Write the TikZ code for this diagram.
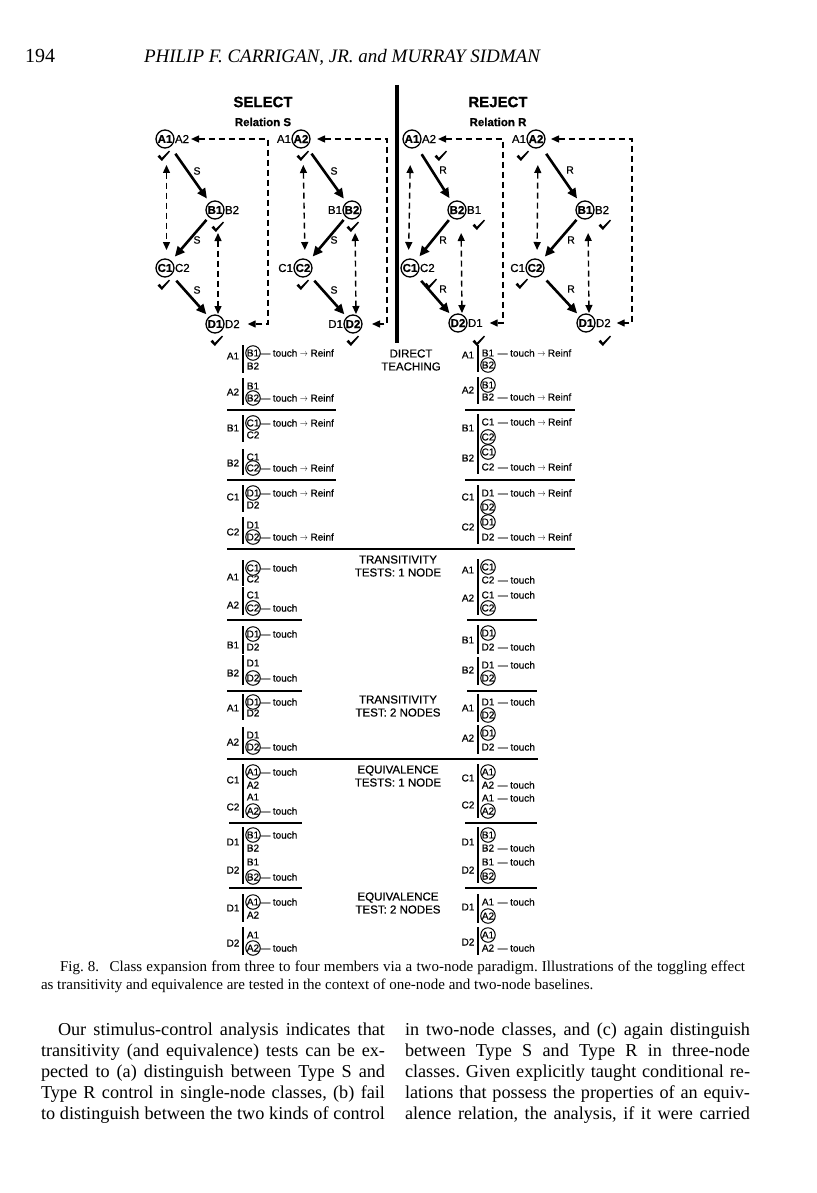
\documentclass[tikz,border=0pt]{standalone}
\usepackage{fontspec}
\usepackage{graphicx}
\setmainfont{Liberation Serif}
\newfontfamily\hel[RawFeature={embolden=0.6}]{Liberation Sans}
\usetikzlibrary{arrows.meta}
\newcounter{trc}
\newcommand\tchR{—\hspace{2.6pt}touch\hspace{2.6pt}\scalebox{0.8}[1]{\ensuremath{\rightarrow}}\hspace{2.6pt}Reinf}
\newcommand\tch{—\hspace{2.6pt}touch}
\newcommand\chk[2]{\fill ({#1-5.5},{#2-0.5}) -- ({#1-3.3},{#2-2.2}) -- ({#1-1.1},{#2+0.8}) -- ({#1+6},{#2-6.4}) -- ({#1+7},{#2-5.4}) -- ({#1-1.1},{#2+4}) -- cycle;}
% left column trial (select)
\newcommand\tL[8]{%
 \stepcounter{trc}%
 \node[smp] (ls\thetrc) at (233,#1) {#2};
 \if t#7
   \node[cmpc] (lt\thetrc) at (253,#3) {#4};
   \node[cmp] (lb\thetrc) at (253,#5) {#6};
   \node[tch] (lx\thetrc) at (lt\thetrc.east) {#8};
 \else
   \node[cmp] (lt\thetrc) at (253,#3) {#4};
   \node[cmpc] (lb\thetrc) at (253,#5) {#6};
   \node[tch] (lx\thetrc) at (lb\thetrc.east) {#8};
 \fi
 \draw[brk] (243,{#3-8}) -- (243,{#5+7});
}
% right column trial (reject)
\newcommand\tR[8]{%
 \stepcounter{trc}%
 \node[smp] (rs\thetrc) at (468,#1) {#2};
 \if t#7
   \node[cmpc] (rt\thetrc) at (488,#3) {#4};
   \node[cmp] (rb\thetrc) at (488,#5) {#6};
   \node[tch] (rx\thetrc) at ([xshift=3.5pt]rb\thetrc.east) {#8};
 \else
   \node[cmp] (rt\thetrc) at (488,#3) {#4};
   \node[cmpc] (rb\thetrc) at (488,#5) {#6};
   \node[tch] (rx\thetrc) at ([xshift=3.5pt]rt\thetrc.east) {#8};
 \fi
 \draw[brk] (478,{#3-8}) -- (478,{#5+7});
}
\begin{document}
\begin{tikzpicture}[x=1pt,y=-1pt,
  every node/.style={inner sep=0pt, outer sep=0pt},
  dc/.style={circle, draw, line width=1.3pt, minimum size=18pt, inner sep=0pt, font=\hel\bfseries\fontsize{11.5}{12}\selectfont},
  dt/.style={font=\hel\fontsize{11.5}{12}\selectfont},
  thk/.style={line width=2.6pt, -{Triangle[length=10pt,width=9pt]}},
  dsh/.style={line width=1.4pt, dash pattern=on 6pt off 4pt, {Triangle[length=8pt,width=7pt]}-{Triangle[length=8pt,width=7pt]}},
  rl/.style={font=\hel\fontsize{10.5}{11}\selectfont},
  smp/.style={font=\hel\fontsize{10}{11}\selectfont},
  cmp/.style={font=\hel\fontsize{10}{11}\selectfont},
  cmpc/.style={cmp, circle, draw, line width=1pt, minimum size=14.5pt},
  tch/.style={font=\hel\fontsize{10}{11}\selectfont, anchor=west},
  brk/.style={line width=1.1pt},
  sep/.style={line width=1.2pt},
  hd/.style={font=\hel\fontsize{11.5}{13}\selectfont, align=center},
  body/.style={font=\fontsize{18.2}{21}\selectfont, anchor=base west},
  capt/.style={font=\fontsize{15}{18}\selectfont, anchor=base west}
]
\frenchspacing
\useasboundingbox (0,0) rectangle (816,1193);
\fill[white] (0,0) rectangle (816,1193);

% running head
\node[anchor=base west, font=\fontsize{20}{24}\selectfont] (pg) at (25,63) {194};
\node[anchor=base west, font=\itshape\fontsize{19}{23}\selectfont] (rh) at (144,63) {PHILIP F. CARRIGAN, JR. and MURRAY SIDMAN};

% titles
\node[font=\hel\bfseries\fontsize{15}{16}\selectfont] (sel) at (263,102) {SELECT};
\node[font=\hel\bfseries\fontsize{11.5}{12}\selectfont] (rels) at (263,122) {Relation S};
\node[font=\hel\bfseries\fontsize{15}{16}\selectfont] (rej) at (498,102) {REJECT};
\node[font=\hel\bfseries\fontsize{11.5}{12}\selectfont] (relr) at (498,122) {Relation R};
\draw[line width=4pt] (397,85) -- (397,343);

% ---------- diagram 1 ----------
\node[dc] (d1a) at (165,139) {A1}; \node[dt,anchor=west] (d1at) at ([xshift=1pt]d1a.east) {A2};
\node[dc] (d1b) at (215,210) {B1}; \node[dt,anchor=west] (d1bt) at ([xshift=1pt]d1b.east) {B2};
\node[dc] (d1c) at (165,268) {C1}; \node[dt,anchor=west] (d1ct) at ([xshift=1pt]d1c.east) {C2};
\node[dc] (d1d) at (215,324) {D1}; \node[dt,anchor=west] (d1dt) at ([xshift=1pt]d1d.east) {D2};
\chk{163}{157}\chk{217}{228}\chk{163}{286}\chk{216}{342}
\draw[thk, shorten <=9pt, shorten >=5pt] (d1a) -- (d1b);
\draw[thk, shorten <=4pt, shorten >=6pt] (d1b) -- (d1c);
\draw[thk, shorten <=8pt, shorten >=4pt] (d1c) -- (d1d);
\node[rl] (d1s1) at (197,171) {S};
\node[rl] (d1s2) at (197,240) {S};
\node[rl] (d1s3) at (197,290) {S};
\draw[dsh, shorten <=17pt, shorten >=9pt] ([xshift=1.5pt]d1a.south) -- ([xshift=1.5pt]d1c.north);
\draw[dsh, shorten <=14pt, shorten >=1pt] ([xshift=3pt]d1b.south) -- ([xshift=3pt]d1d.north);
\coordinate (f1) at (268,0);
\draw[dsh] ([xshift=2pt]d1at.east) -- (d1at.east -| f1) -- (d1dt.east -| f1) -- ([xshift=8pt]d1dt.east);

% ---------- diagram 2 ----------
\node[dc] (d2a) at (301,139) {A2}; \node[dt,anchor=east] (d2at) at ([xshift=-1pt]d2a.west) {A1};
\node[dc] (d2b) at (352,210) {B2}; \node[dt,anchor=east] (d2bt) at ([xshift=-1pt]d2b.west) {B1};
\node[dc] (d2c) at (303,268) {C2}; \node[dt,anchor=east] (d2ct) at ([xshift=-1pt]d2c.west) {C1};
\node[dc] (d2d) at (353,324) {D2}; \node[dt,anchor=east] (d2dt) at ([xshift=-1pt]d2d.west) {D1};
\chk{302}{157}\chk{352}{228}\chk{302}{286}\chk{352}{342}
\draw[thk, shorten <=9pt, shorten >=5pt] (d2a) -- (d2b);
\draw[thk, shorten <=4pt, shorten >=6pt] (d2b) -- (d2c);
\draw[thk, shorten <=8pt, shorten >=4pt] (d2c) -- (d2d);
\node[rl] (d2s1) at (334,171) {S};
\node[rl] (d2s2) at (334,240) {S};
\node[rl] (d2s3) at (334,290) {S};
\draw[dsh, shorten <=17pt, shorten >=9pt] ([xshift=2pt]d2a.south) -- ([xshift=2pt]d2c.north);
\draw[dsh, shorten <=14pt, shorten >=1pt] ([xshift=3pt]d2b.south) -- ([xshift=3pt]d2d.north);
\coordinate (f2) at (387,0);
\draw[dsh] ([xshift=7pt]d2a.east) -- (d2a.east -| f2) -- (d2d.east -| f2) -- ([xshift=10pt]d2d.east);

% ---------- diagram 3 ----------
\node[dc] (d3a) at (412,139) {A1}; \node[dt,anchor=west] (d3at) at ([xshift=1pt]d3a.east) {A2};
\node[dc] (d3b) at (457,210) {B2}; \node[dt,anchor=west] (d3bt) at ([xshift=1pt]d3b.east) {B1};
\node[dc] (d3c) at (410,268) {C1}; \node[dt,anchor=west] (d3ct) at ([xshift=1pt]d3c.east) {C2};
\node[dc] (d3d) at (458,323) {D2}; \node[dt,anchor=west] (d3dt) at ([xshift=1pt]d3d.east) {D1};
\chk{440}{157}\chk{478}{226}\chk{430}{285}\chk{478}{342}
\draw[thk, shorten <=9pt, shorten >=5pt] (d3a) -- (d3b);
\draw[thk, shorten <=4pt, shorten >=6pt] (d3b) -- (d3c);
\draw[thk, shorten <=8pt, shorten >=4pt] (d3c) -- (d3d);
\node[rl] (d3s1) at (443,170) {R};
\node[rl] (d3s2) at (443,240) {R};
\node[rl] (d3s3) at (443,289) {R};
\draw[dsh, shorten <=17pt, shorten >=9pt] ([xshift=-1.5pt]d3a.south) -- ([xshift=-1.5pt]d3c.north);
\draw[dsh, shorten <=14pt, shorten >=1pt] ([xshift=4pt]d3b.south) -- ([xshift=4pt]d3d.north);
\coordinate (f3) at (503,0);
\draw[dsh] ([xshift=2pt]d3at.east) -- (d3at.east -| f3) -- (d3dt.east -| f3) -- ([xshift=7pt]d3dt.east);

% ---------- diagram 4 ----------
\node[dc] (d4a) at (536,139) {A2}; \node[dt,anchor=east] (d4at) at ([xshift=-1pt]d4a.west) {A1};
\node[dc] (d4b) at (585,210) {B1}; \node[dt,anchor=west] (d4bt) at ([xshift=1pt]d4b.east) {B2};
\node[dc] (d4c) at (535,268) {C2}; \node[dt,anchor=east] (d4ct) at ([xshift=-1pt]d4c.west) {C1};
\node[dc] (d4d) at (586,323) {D1}; \node[dt,anchor=west] (d4dt) at ([xshift=1pt]d4d.east) {D2};
\chk{522}{157}\chk{604}{226}\chk{521}{285}\chk{604}{342}
\draw[thk, shorten <=9pt, shorten >=5pt] (d4a) -- (d4b);
\draw[thk, shorten <=4pt, shorten >=6pt] (d4b) -- (d4c);
\draw[thk, shorten <=8pt, shorten >=4pt] (d4c) -- (d4d);
\node[rl] (d4s1) at (570,170) {R};
\node[rl] (d4s2) at (571,240) {R};
\node[rl] (d4s3) at (571,289) {R};
\draw[dsh, shorten <=17pt, shorten >=9pt] ([xshift=2pt]d4a.south) -- ([xshift=2pt]d4c.north);
\draw[dsh, shorten <=14pt, shorten >=1pt] ([xshift=3pt]d4b.south) -- ([xshift=3pt]d4d.north);
\coordinate (f4) at (632,0);
\draw[dsh] ([xshift=6pt]d4a.east) -- (d4a.east -| f4) -- (d4dt.east -| f4) -- ([xshift=6pt]d4dt.east);

% ---------- section headings ----------
\node[hd] (h1) at (411,360) {DIRECT\\TEACHING};
\node[hd] (h2) at (398,566) {TRANSITIVITY\\TESTS: 1 NODE};
\node[hd] (h3) at (398,706) {TRANSITIVITY\\TEST: 2 NODES};
\node[hd] (h4) at (398,776) {EQUIVALENCE\\TESTS: 1 NODE};
\node[hd] (h5) at (398,903) {EQUIVALENCE\\TEST: 2 NODES};

% ---------- left column trials ----------
\tL{356}{A1}{353}{B1}{366}{B2}{t}{\tchR}
\tL{392}{A2}{386}{B1}{398}{B2}{b}{\tchR}
\tL{428}{B1}{423}{C1}{435}{C2}{t}{\tchR}
\tL{463}{B2}{457}{C1}{468}{C2}{b}{\tchR}
\tL{497}{C1}{493}{D1}{505}{D2}{t}{\tchR}
\tL{532}{C2}{525}{D1}{537}{D2}{b}{\tchR}
\tL{577}{A1}{568}{C1}{579}{C2}{t}{\tch}
\tL{605}{A2}{595}{C1}{608}{C2}{b}{\tch}
\tL{645}{B1}{634}{D1}{647}{D2}{t}{\tch}
\tL{673}{B2}{663}{D1}{678}{D2}{b}{\tch}
\tL{708}{A1}{702}{D1}{713}{D2}{t}{\tch}
\tL{742}{A2}{735}{D1}{747}{D2}{b}{\tch}
\tL{780}{C1}{772}{A1}{785}{A2}{t}{\tch}
\tL{807}{C2}{797}{A1}{811}{A2}{b}{\tch}
\tL{842}{D1}{835}{B1}{848}{B2}{t}{\tch}
\tL{870}{D2}{862}{B1}{877}{B2}{b}{\tch}
\tL{908}{D1}{902}{A1}{915}{A2}{t}{\tch}
\tL{943}{D2}{935}{A1}{948}{A2}{b}{\tch}

% ---------- right column trials ----------
\tR{355}{A1}{353}{B1}{365}{B2}{b}{\tchR}
\tR{390}{A2}{385}{B1}{397}{B2}{t}{\tchR}
\tR{428}{B1}{422}{C1}{437}{C2}{b}{\tchR}
\tR{458}{B2}{452}{C1}{467}{C2}{t}{\tchR}
\tR{497}{C1}{493}{D1}{507}{D2}{b}{\tchR}
\tR{527}{C2}{522}{D1}{537}{D2}{t}{\tchR}
\tR{570}{A1}{567}{C1}{580}{C2}{t}{\tch}
\tR{598}{A2}{595}{C1}{608}{C2}{b}{\tch}
\tR{640}{B1}{633}{D1}{647}{D2}{t}{\tch}
\tR{670}{B2}{665}{D1}{678}{D2}{b}{\tch}
\tR{708}{A1}{702}{D1}{715}{D2}{b}{\tch}
\tR{738}{A2}{733}{D1}{747}{D2}{t}{\tch}
\tR{778}{C1}{772}{A1}{785}{A2}{t}{\tch}
\tR{805}{C2}{798}{A1}{811}{A2}{b}{\tch}
\tR{842}{D1}{835}{B1}{848}{B2}{t}{\tch}
\tR{870}{D2}{862}{B1}{876}{B2}{b}{\tch}
\tR{907}{D1}{902}{A1}{916}{A2}{b}{\tch}
\tR{942}{D2}{935}{A1}{948}{A2}{t}{\tch}

% ---------- separators ----------
\foreach \yy in {410,480} {\draw[sep] (227,\yy) -- (336,\yy); \draw[sep] (465,\yy) -- (575,\yy);}
\draw[sep] (227,549) -- (575,549);
\foreach \yy in {620,691} {\draw[sep] (227,\yy) -- (302,\yy); \draw[sep] (467,\yy) -- (537,\yy);}
\draw[sep] (227,759) -- (538,759);
\foreach \yy in {823,888} {\draw[sep] (229,\yy) -- (302,\yy); \draw[sep] (465,\yy) -- (537,\yy);}

% ---------- caption ----------
\node[capt] (cap1) at (60,971) {\makebox[685pt][s]{Fig. 8.\hspace{0.7em}Class expansion from three to four members via a two-node paradigm. Illustrations of the toggling effect}};
\node[capt] (cap2) at (41,989) {as transitivity and equivalence are tested in the context of one-node and two-node baselines.};

% ---------- body text ----------
\node[body] (l1) at (58,1035) {\makebox[327pt][s]{Our stimulus-control analysis indicates that}};
\node[body] (l2) at (41,1056) {\makebox[344pt][s]{transitivity (and equivalence) tests can be ex-}};
\node[body] (l3) at (41,1077) {\makebox[344pt][s]{pected to (a) distinguish between Type S and}};
\node[body] (l4) at (41,1098) {\makebox[344pt][s]{Type R control in single-node classes, (b) fail}};
\node[body] (l5) at (41,1119) {\makebox[344pt][s]{to distinguish between the two kinds of control}};
\node[body] (r1) at (405,1035) {\makebox[345pt][s]{in two-node classes, and (c) again distinguish}};
\node[body] (r2) at (405,1056) {\makebox[345pt][s]{between Type S and Type R in three-node}};
\node[body] (r3) at (405,1077) {\makebox[345pt][s]{classes. Given explicitly taught conditional re-}};
\node[body] (r4) at (405,1098) {\makebox[345pt][s]{lations that possess the properties of an equiv-}};
\node[body] (r5) at (405,1119) {\makebox[345pt][s]{alence relation, the analysis, if it were carried}};
\end{tikzpicture}
\end{document}
